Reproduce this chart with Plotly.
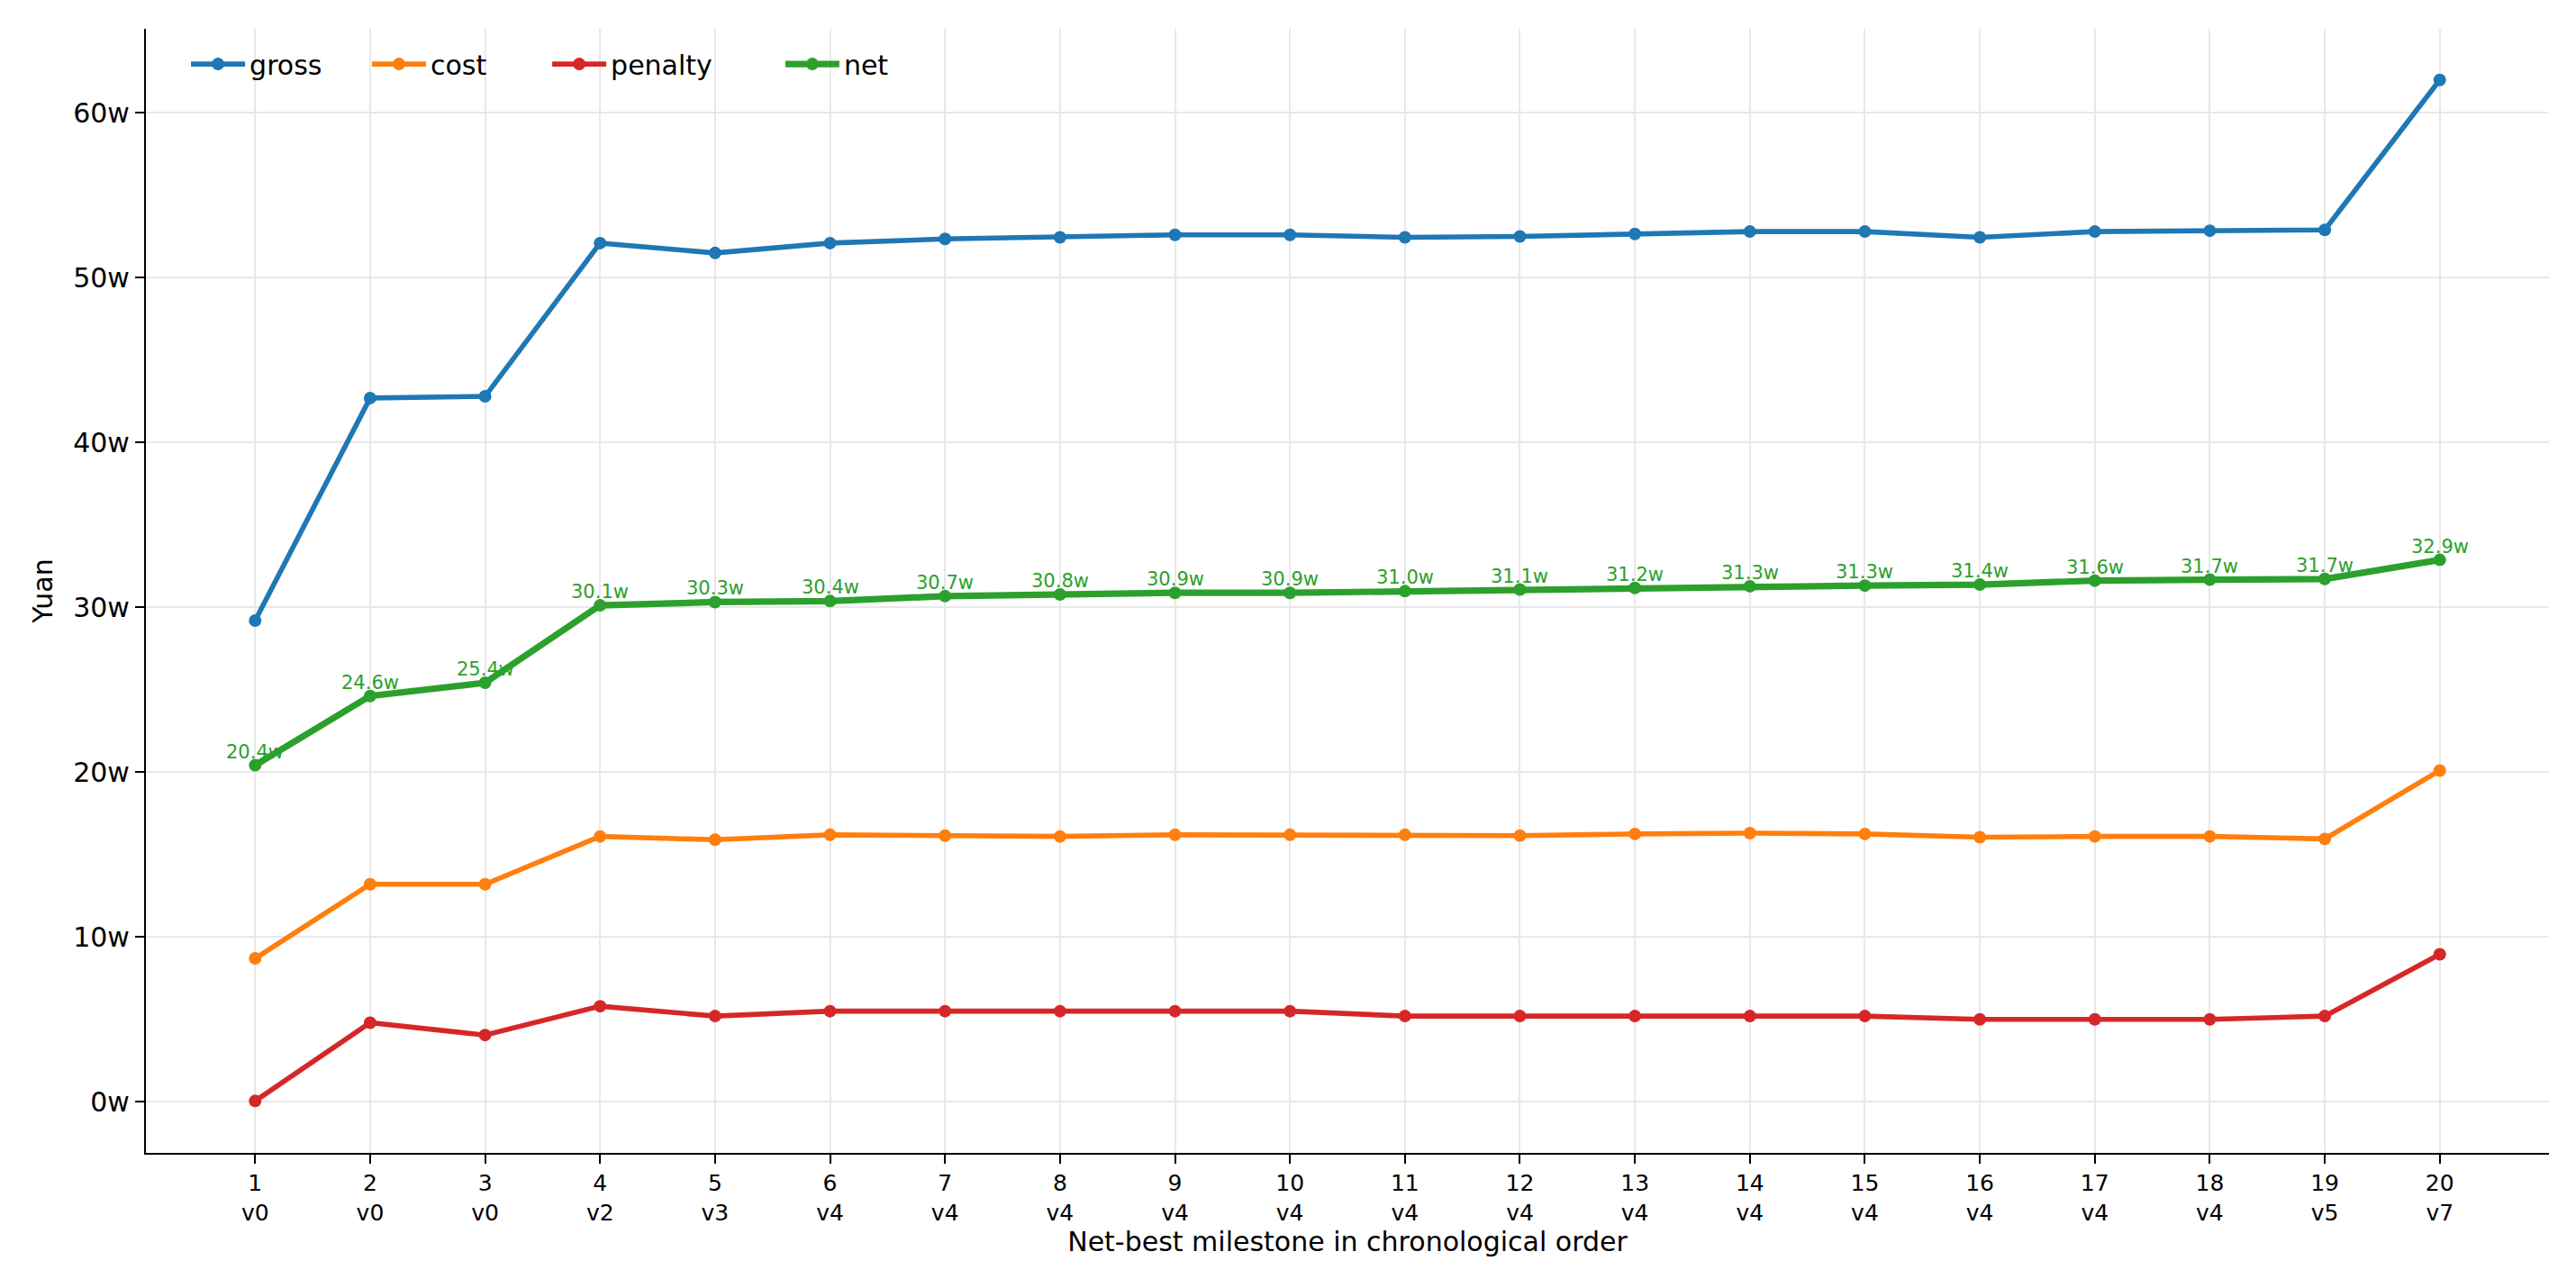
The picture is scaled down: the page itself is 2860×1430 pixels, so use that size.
import plotly.graph_objects as go

milestones = list(range(1, 21))
versions = ["v0", "v0", "v0", "v2", "v3", "v4", "v4", "v4", "v4", "v4",
            "v4", "v4", "v4", "v4", "v4", "v4", "v4", "v4", "v5", "v7"]

# values in units of w (10,000 yuan)
gross = [29.2, 42.7, 42.8, 52.1, 51.5, 52.1, 52.35, 52.45, 52.6, 52.6,
         52.45, 52.5, 52.65, 52.8, 52.8, 52.45, 52.8, 52.85, 52.9, 62.0]
cost = [8.7, 13.2, 13.2, 16.1, 15.9, 16.2, 16.15, 16.1, 16.2, 16.2,
        16.2, 16.15, 16.25, 16.3, 16.25, 16.05, 16.1, 16.1, 15.95, 20.1]
penalty = [0.05, 4.8, 4.05, 5.8, 5.2, 5.5, 5.5, 5.5, 5.5, 5.5,
           5.2, 5.2, 5.2, 5.2, 5.2, 5.0, 5.0, 5.0, 5.2, 8.95]
net = [20.42, 24.62, 25.42, 30.12, 30.32, 30.38, 30.68, 30.78, 30.88, 30.88,
       30.98, 31.08, 31.18, 31.28, 31.32, 31.38, 31.62, 31.68, 31.72, 32.88]

ytick_vals = [0, 10, 20, 30, 40, 50, 60]
ytick_text = [f"{v}w" for v in ytick_vals]
xtick_text = [f"{m}<br>{v}" for m, v in zip(milestones, versions)]

FONT = "DejaVu Sans"
colors = {"gross": "#1f77b4", "cost": "#ff7f0e", "penalty": "#d62728", "net": "#2ca02c"}

fig = go.Figure()
series = [("gross", gross, 5.6), ("cost", cost, 5.6), ("penalty", penalty, 5.6), ("net", net, 7.2)]
legend_ids = ["legend", "legend2", "legend3", "legend4"]
legend_x = [0.0169, 0.0922, 0.1672, 0.2642]
for (name, vals, lw), lid in zip(series, legend_ids):
    fig.add_trace(go.Scatter(
        x=milestones, y=vals, name=name, mode="lines+markers",
        line=dict(color=colors[name], width=lw),
        marker=dict(color=colors[name], size=14),
        legend=lid,
    ))

for m, v in zip(milestones, net):
    fig.add_annotation(
        x=m, y=v, text=f"{v:.1f}w", showarrow=False,
        xanchor="center", yanchor="bottom", yshift=1,
        font=dict(family=FONT, size=21, color=colors["net"]),
    )

legend_common = dict(orientation="h", y=0.9895, xanchor="left", yanchor="top",
                     bgcolor="rgba(0,0,0,0)", font=dict(family=FONT, size=30),
                     itemwidth=60)
layout_legends = {lid: dict(legend_common, x=lx) for lid, lx in zip(legend_ids, legend_x)}

grid_color = "#e8e8e8"
fig.update_layout(
    width=2860, height=1430,
    paper_bgcolor="white", plot_bgcolor="white",
    margin=dict(l=162, r=30, t=32, b=150),
    font=dict(family=FONT, size=30, color="black"),
    showlegend=True,
    **layout_legends,
)
fig.update_xaxes(
    range=[0.05, 20.95], tickmode="array", tickvals=milestones, ticktext=xtick_text,
    tickfont=dict(family=FONT, size=25), showline=True, linecolor="black", linewidth=2.2,
    mirror=False, ticks="outside", ticklen=10, tickwidth=2.2, tickcolor="black",
    showgrid=True, gridcolor=grid_color, gridwidth=2, zeroline=False,
    title=dict(text="Net-best milestone in chronological order", font=dict(family=FONT, size=30), standoff=7),
)
fig.update_yaxes(
    range=[-3.1, 65.1], tickmode="array", tickvals=ytick_vals, ticktext=ytick_text,
    tickfont=dict(family=FONT, size=30), showline=True, linecolor="black", linewidth=2.2,
    mirror=False, ticks="outside", ticklen=10, tickwidth=2.2, tickcolor="black",
    showgrid=True, gridcolor=grid_color, gridwidth=2, zeroline=False,
    title=dict(text="Yuan", font=dict(family=FONT, size=30), standoff=14),
)

fig.write_html("out.html")
